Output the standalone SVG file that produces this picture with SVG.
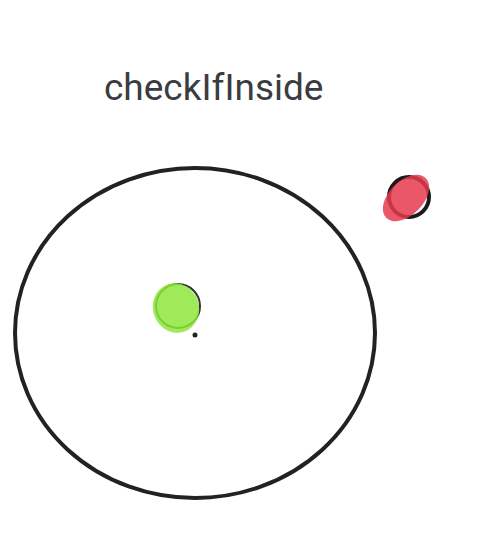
<svg xmlns="http://www.w3.org/2000/svg" width="488" height="542" viewBox="0 0 488 542">
<style>
.t{font-family:Roboto,"Liberation Sans",sans-serif;font-size:37px;fill:#3b3c40}
.ring{fill:none;stroke:#222;stroke-width:4}
</style>
<rect width="488" height="542" fill="#fff"/>
<text class="t" x="104" y="100">checkIfInside</text>
<g id="boundary"><ellipse class="ring" cx="195" cy="333" rx="180" ry="165"/></g>
<g id="center"><circle cx="195" cy="335" r="2.5" fill="#222"/></g>
<g id="inside">
<circle cx="178" cy="306" r="22" fill="none" stroke="#333" stroke-width="2"/>
<ellipse cx="176" cy="308" rx="23" ry="25" fill="#8ee63c" opacity="0.85" transform="rotate(-20 176 308)"/>
</g>
<g id="outside">
<circle cx="409" cy="197" r="20" fill="none" stroke="#1a1a1a" stroke-width="4"/>
<ellipse cx="406" cy="198" rx="17" ry="28" fill="#e63a4c" opacity="0.85" transform="rotate(45 406 198)"/>
</g>
</svg>
